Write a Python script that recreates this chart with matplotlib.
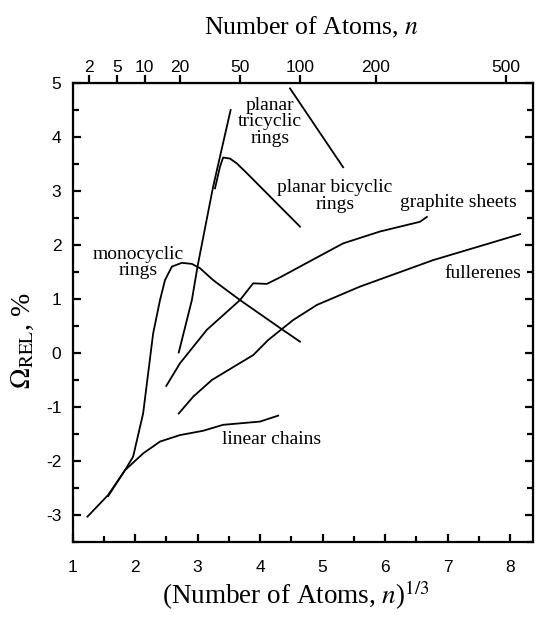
"""
Omega_REL vs (Number of Atoms)^(1/3) for carbon cluster families.
"""

import matplotlib
matplotlib.use("Agg")
import matplotlib.pyplot as plt
import numpy as np

plt.rcParams["mathtext.fontset"] = "stix"
plt.rcParams["axes.unicode_minus"] = False

SERIF = "Liberation Serif"
SANS = "Liberation Sans"

# Courbes : x = n^(1/3), y = Omega_REL (%)
linear_x = [1.24, 1.57, 1.84, 2.13, 2.40, 2.72, 3.09, 3.41, 4.00, 4.29]
linear_y = [-3.03, -2.63, -2.17, -1.86, -1.64, -1.52, -1.44, -1.33, -1.27, -1.16]

mono_x = [1.57, 1.84, 1.97, 2.13, 2.21, 2.29, 2.40, 2.48, 2.59, 2.75, 2.91, 3.04, 3.25, 3.68, 4.35, 4.64]
mono_y = [-2.65, -2.17, -1.92, -1.12, -0.38, 0.36, 0.98, 1.35, 1.60, 1.67, 1.65, 1.57, 1.35, 0.98, 0.44, 0.21]

tri_x = [2.70, 2.91, 3.00, 3.25, 3.53]
tri_y = [0.01, 0.98, 1.60, 3.08, 4.50]

bi_x = [3.28, 3.36, 3.41, 3.52, 3.63, 3.79, 4.64]
bi_y = [3.05, 3.45, 3.62, 3.60, 3.51, 3.33, 2.34]

graph_x = [2.50, 2.72, 3.15, 3.68, 3.89, 4.11, 4.32, 4.96, 5.33, 5.92, 6.56, 6.67]
graph_y = [-0.61, -0.19, 0.43, 0.98, 1.29, 1.28, 1.40, 1.80, 2.03, 2.25, 2.43, 2.52]

full_x = [2.70, 2.93, 3.23, 3.63, 3.89, 4.13, 4.53, 4.91, 5.60, 6.77, 8.16]
full_y = [-1.12, -0.81, -0.50, -0.22, -0.04, 0.24, 0.61, 0.89, 1.23, 1.72, 2.20]

# trait partant du haut vers "planar tricyclic rings"
pointer_x = [4.48, 5.33]
pointer_y = [4.90, 3.44]

# Axe du haut : nombre d'atomes
top_n = [2, 5, 10, 20, 50, 100, 200, 500]

labels = [
    ("planar\ntricyclic\nrings", 4.16, 4.28),
    ("planar bicyclic\nrings", 5.20, 2.91),
    ("graphite sheets", 7.17, 2.78),
    ("fullerenes", 7.57, 1.48),
    ("monocyclic\nrings", 2.05, 1.68),
    ("linear chains", 4.18, -1.61),
]


def main() -> None:
    fig = plt.figure(figsize=(5.36, 6.2), dpi=100)
    ax = fig.add_axes([72.5 / 536, 1 - 542 / 620, (533 - 72.5) / 536, (542 - 83) / 620])

    for xs, ys in [
        (linear_x, linear_y),
        (mono_x, mono_y),
        (tri_x, tri_y),
        (bi_x, bi_y),
        (graph_x, graph_y),
        (full_x, full_y),
        (pointer_x, pointer_y),
    ]:
        ax.plot(xs, ys, color="black", lw=1.3)

    for txt, x, y in labels:
        ax.text(x, y, txt, ha="center", va="center", family=SERIF, fontsize=14,
                linespacing=0.95)

    ax.set_xlim(1, 1 + (533 - 72.5) / 62.5)
    ax.set_ylim(-3.5, 5)
    ax.set_xticks(np.arange(1, 9))
    ax.set_xticks(np.arange(1.5, 8.5, 0.5), minor=True)
    ax.set_yticks(np.arange(-3, 6))
    ax.set_yticks(np.arange(-3.5, 5.0, 0.5), minor=True)
    ax.tick_params(which="both", direction="in", right=True, top=False, width=1.6)
    ax.tick_params(which="major", length=6)
    ax.tick_params(which="minor", length=4)
    ax.tick_params(axis="x", which="major", pad=13)
    ax.tick_params(axis="y", which="major", pad=8)
    for lab in ax.get_xticklabels() + ax.get_yticklabels():
        lab.set_family(SANS)
        lab.set_fontsize(12.5)
    for sp in ax.spines.values():
        sp.set_linewidth(1.6)

    top = ax.secondary_xaxis("top", functions=(lambda x: np.sign(x) * np.abs(x) ** 3,
                                               lambda n: np.sign(n) * np.abs(n) ** (1 / 3)))
    top.set_xticks(top_n)
    top.set_xticklabels([str(n) for n in top_n], family=SANS, fontsize=12.5)
    top.tick_params(direction="out", length=6, width=1.6, pad=0)
    top.xaxis.set_minor_locator(matplotlib.ticker.NullLocator())
    fig.text(311 / 536, 1 - 27 / 620, "Number of Atoms, $n$", family=SERIF,
             fontsize=18.5, ha="center", va="center")

    ax.set_xlabel("(Number of Atoms, $n$)$^{1/3}$", family=SERIF, fontsize=19.5)
    ax.xaxis.set_label_coords(0.485, (542 - 595) / 459)
    ax.xaxis.label.set_va("center")
    ax.set_ylabel(r"$\Omega_{\mathrm{REL}}$, %", family=SERIF, fontsize=20)
    ax.yaxis.set_label_coords((23 - 72.5) / 460.5, (542 - 340) / 459)
    ax.yaxis.label.set_va("center")

    plt.savefig("out.png", dpi=100)
    plt.close()


if __name__ == "__main__":
    main()
